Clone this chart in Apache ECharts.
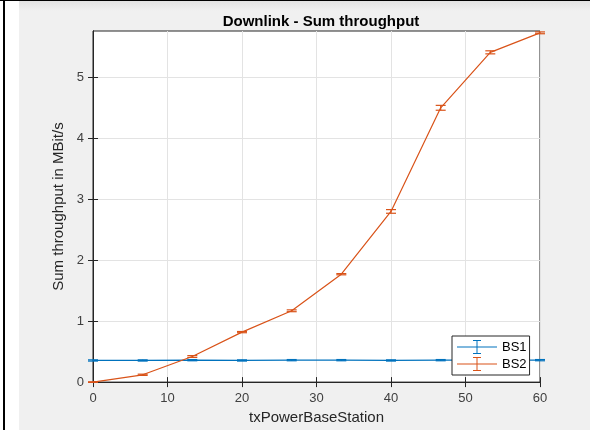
<!DOCTYPE html>
<html>
<head>
<meta charset="utf-8">
<script src="https://cdn.jsdelivr.net/npm/echarts@6/dist/echarts.min.js"></script>
<style>
  html, body { margin: 0; padding: 0; width: 590px; height: 430px; overflow: hidden; background: #f0f0f0; }
  #frameL { position: absolute; left: 0; top: 0; width: 19px; height: 430px; background: #ffffff; }
  #frameLine { position: absolute; left: 3px; top: 0; width: 2px; height: 430px; background: #000000; }
  #frameTop { position: absolute; left: 0; top: 0; width: 590px; height: 1px; background: #000000; }
  #shade { position: absolute; left: 19px; top: 1px; width: 571px; height: 10px; background: linear-gradient(#e2e2e2, #f0f0f0); }
  #chart { position: absolute; left: 0; top: 0; width: 590px; height: 430px; }
</style>
</head>
<body>
<div id="frameL"></div>
<div id="frameLine"></div>
<div id="shade"></div>
<div id="frameTop"></div>
<div id="chart"></div>
<script>
// ---- data ----
var xValues = [0, 6.67, 13.33, 20, 26.67, 33.33, 40, 46.67, 53.33, 60];
var bs1Values = [0.355, 0.355, 0.36, 0.355, 0.36, 0.36, 0.355, 0.36, 0.36, 0.36];
var bs1Errors = [0.01, 0.01, 0.01, 0.01, 0.01, 0.01, 0.01, 0.01, 0.01, 0.01];
var bs2Values = [0.0, 0.12, 0.42, 0.82, 1.17, 1.77, 2.8, 4.5, 5.41, 5.73];
var bs2Errors = [0.005, 0.01, 0.015, 0.01, 0.015, 0.01, 0.03, 0.04, 0.025, 0.015];
var xTicks = [0, 10, 20, 30, 40, 50, 60];
var yTicks = [0, 1, 2, 3, 4, 5];
var seriesNames = ['BS1', 'BS2'];
var titleText = 'Downlink - Sum throughput';
var xLabel = 'txPowerBaseStation';
var yLabel = 'Sum throughput in MBit/s';

var colors = ['#0072BD', '#D95319'];
var font = 'Liberation Sans, Arial, Helvetica, sans-serif';

function pairs(xs, ys) { return xs.map(function (x, i) { return [x, ys[i]]; }); }
function triples(xs, ys, es) { return xs.map(function (x, i) { return [x, ys[i], es[i]]; }); }

function errorBarRender(params, api) {
  var x = api.value(0), y = api.value(1), e = api.value(2);
  var hi = api.coord([x, y + e]);
  var lo = api.coord([x, y - e]);
  var hw = 5;
  var st = { stroke: api.visual('color'), lineWidth: 1.2 };
  return {
    type: 'group',
    children: [
      { type: 'line', shape: { x1: hi[0], y1: hi[1], x2: lo[0], y2: lo[1] }, style: st },
      { type: 'line', shape: { x1: hi[0] - hw, y1: hi[1], x2: hi[0] + hw, y2: hi[1] }, style: st },
      { type: 'line', shape: { x1: lo[0] - hw, y1: lo[1], x2: lo[0] + hw, y2: lo[1] }, style: st }
    ]
  };
}

var iconPath = 'path://M0,6.5H40V7.5H0Z M19.5,0H20.5V14H19.5Z M16,0H24V1H16Z M16,13H24V14H16Z';

var yMax = 5.76;
var axisColor = '#262626';
var tickLabelStyle = { color: '#404040', fontSize: 13, fontFamily: font };

var chart = echarts.init(document.getElementById('chart'), null, { renderer: 'canvas' });
chart.setOption({
  backgroundColor: 'transparent',
  animation: false,
  color: colors,
  title: {
    text: titleText,
    left: 316, top: 9, textAlign: 'center',
    textStyle: { fontFamily: font, fontSize: 15, fontWeight: 'bold', color: '#000000' }
  },
  grid: { left: 93, top: 31, right: 50, bottom: 45, show: true, backgroundColor: '#ffffff', borderColor: axisColor, borderWidth: 1 },
  legend: {
    orient: 'vertical',
    left: 452, top: 336, zlevel: 1, z: 20,
    data: seriesNames.map(function (n, i) {
      return { name: n, icon: iconPath, itemStyle: { color: colors[i], borderColor: colors[i], borderWidth: 0, opacity: 1 } };
    }),
    itemWidth: 40, itemHeight: 14, itemGap: 3,
    padding: [4, 3, 4, 5],
    backgroundColor: '#ffffff', borderColor: axisColor, borderWidth: 1, borderRadius: 0,
    textStyle: { fontFamily: font, fontSize: 13, color: '#000000' },
    selectedMode: false
  },
  xAxis: [{
    type: 'value', min: 0, max: 60, interval: 10, position: 'bottom',
    name: xLabel, nameLocation: 'middle', nameGap: 27,
    nameTextStyle: { fontFamily: font, fontSize: 15, color: '#262626' },
    axisLine: { show: true, lineStyle: { color: axisColor, width: 1 } },
    axisTick: { show: true, inside: true, length: 5, lineStyle: { color: axisColor } },
    axisLabel: Object.assign({ margin: 10 }, tickLabelStyle),
    splitLine: { show: true, lineStyle: { color: '#e3e3e3', width: 1 } }
  }, {
    type: 'value', min: 0, max: 60, interval: 10, position: 'top',
    axisLine: { show: true, lineStyle: { color: axisColor, width: 1 } },
    axisTick: { show: true, inside: true, length: 5, lineStyle: { color: axisColor } },
    axisLabel: { show: false }, splitLine: { show: false }
  }],
  yAxis: [{
    type: 'value', min: 0, max: yMax, interval: 1, position: 'left',
    name: yLabel, nameLocation: 'middle', nameGap: 13, nameRotate: 90,
    nameTextStyle: { fontFamily: font, fontSize: 15, color: '#262626' },
    axisLine: { show: true, lineStyle: { color: axisColor, width: 1 } },
    axisTick: { show: true, inside: true, length: 5, customValues: yTicks, lineStyle: { color: axisColor } },
    axisLabel: Object.assign({ margin: 9, customValues: yTicks }, tickLabelStyle),
    splitLine: { show: true, lineStyle: { color: '#e3e3e3', width: 1 } }
  }, {
    type: 'value', min: 0, max: yMax, interval: 1, position: 'right',
    axisLine: { show: true, lineStyle: { color: axisColor, width: 1 } },
    axisTick: { show: true, inside: true, length: 5, customValues: yTicks, lineStyle: { color: axisColor } },
    axisLabel: { show: false }, splitLine: { show: false }
  }],
  series: [
    {
      name: seriesNames[0], type: 'custom', renderItem: errorBarRender, clip: false,
      itemStyle: { color: colors[0], borderColor: colors[0] }, z: 3,
      data: triples(xValues, bs1Values, bs1Errors)
    },
    {
      name: seriesNames[1], type: 'custom', renderItem: errorBarRender, clip: false,
      itemStyle: { color: colors[1], borderColor: colors[1] }, z: 3,
      data: triples(xValues, bs2Values, bs2Errors)
    },
    {
      name: seriesNames[0] + ' line', type: 'line', showSymbol: false, symbol: 'none',
      lineStyle: { color: colors[0], width: 1.2 }, itemStyle: { color: colors[0] }, z: 2,
      data: pairs(xValues, bs1Values)
    },
    {
      name: seriesNames[1] + ' line', type: 'line', showSymbol: false, symbol: 'none',
      lineStyle: { color: colors[1], width: 1.2 }, itemStyle: { color: colors[1] }, z: 2,
      data: pairs(xValues, bs2Values)
    }
  ]
});
</script>
</body>
</html>
